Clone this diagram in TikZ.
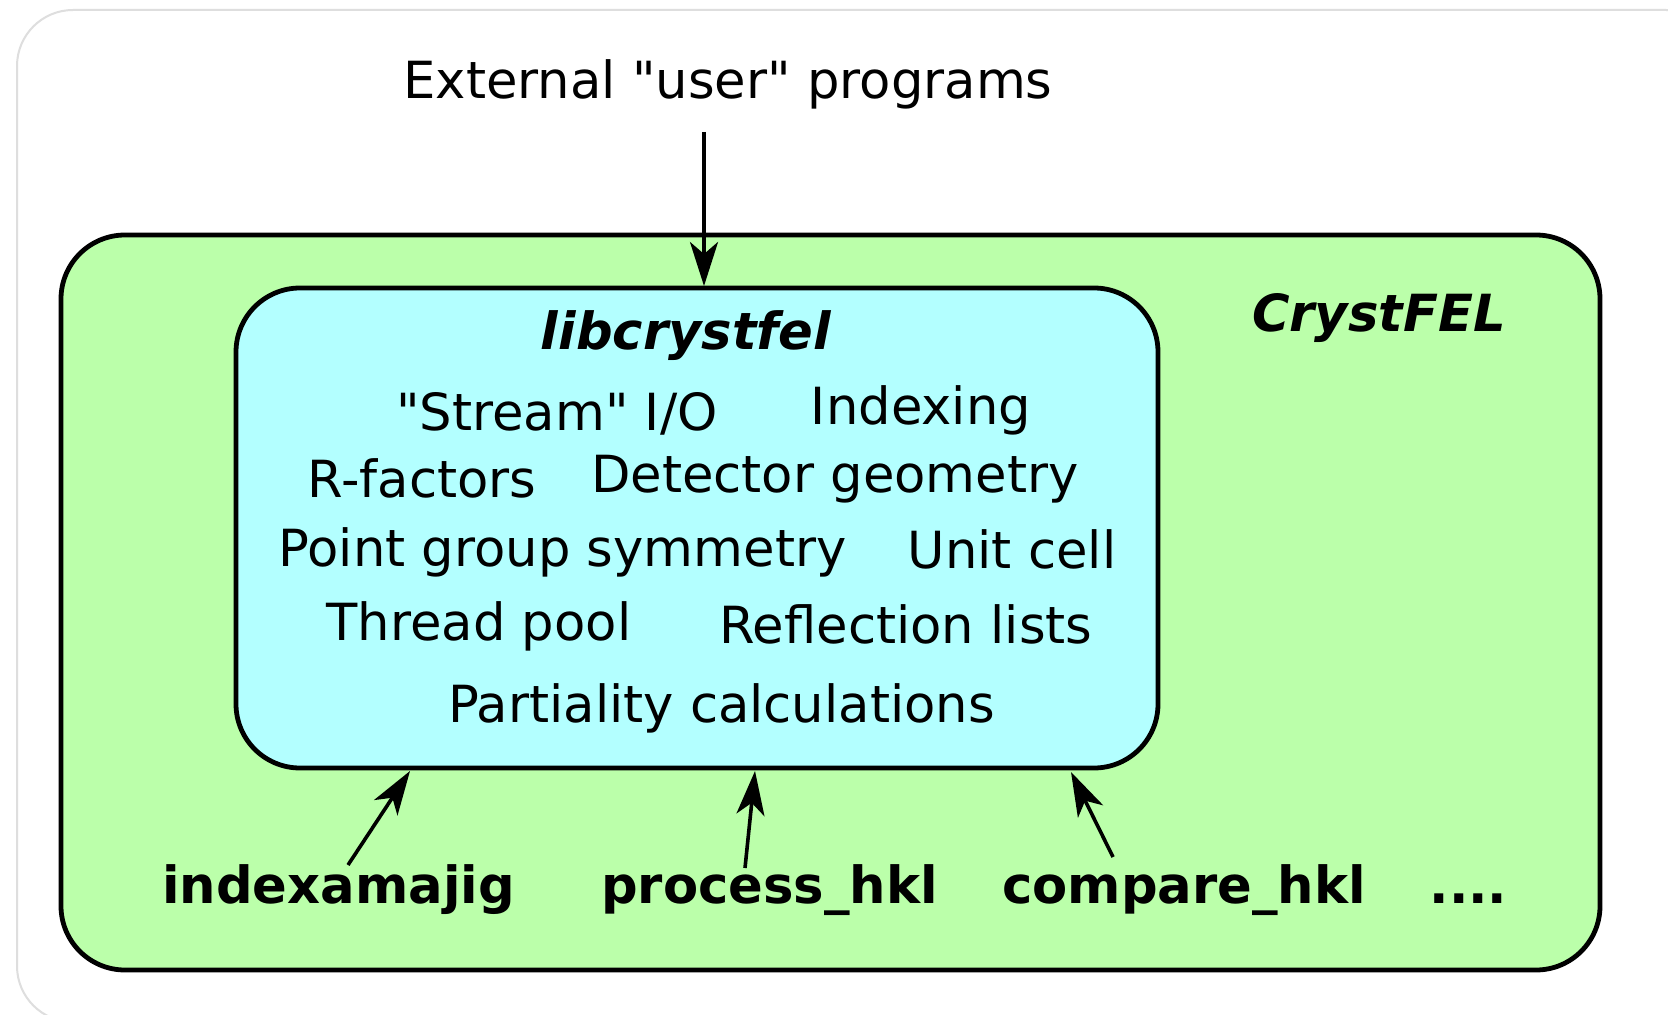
\documentclass[tikz,border=0pt]{standalone}
\usepackage{fontspec}
\setmainfont{DejaVu Sans}[Ligatures=TeXOff]
\usetikzlibrary{arrows.meta}
\definecolor{crystgreen}{RGB}{187,255,170}
\definecolor{libcyan}{RGB}{179,255,255}
\definecolor{framegray}{RGB}{222,222,222}
\begin{document}
\begin{tikzpicture}[x=0.5pt,y=-0.5pt,
  lbl/.style={inner sep=0pt,anchor=base,font=\fontsize{25.6}{30}\selectfont},
  prog/.style={lbl,font=\fontsize{25.6}{30}\selectfont\bfseries},
  title/.style={lbl,font=\fontsize{25.6}{30}\selectfont\bfseries\itshape},
  box/.style={draw=black,line width=2.4pt,rounded corners=32pt,inner sep=0pt},
  arr/.style={line width=1.8pt,-{Stealth[length=22pt,width=14pt,inset=6pt]}}]
\useasboundingbox (0,0) rectangle (1668,1015);
\fill[white] (0,0) rectangle (1668,1015);
\clip (0,0) rectangle (1668,1015);
% outer faint frame
\draw[framegray,line width=1pt,rounded corners=28pt] (17,10) rectangle (1722,1022);
% boxes
\node[box,fill=crystgreen,minimum width=769.5pt,minimum height=367.5pt] (cfel) at (830.5,602.5) {};
\node[box,fill=libcyan,minimum width=461pt,minimum height=240pt] (lib) at (697,528) {};
% texts
\node[lbl] (ext) at (728,99) {External "user" programs};
\node[title] (libt) at (686,350) {libcrystfel};
\node[title] (cft) at (1379,332) {CrystFEL};
\node[lbl] (l1) at (557,430) {"Stream" I/O};
\node[lbl] (l2) at (921,425) {Indexing};
\node[lbl] (l3) at (422,497) {R-factors};
\node[lbl] (l4) at (835,492) {Detector geometry};
\node[lbl] (l5) at (562.5,566) {Point group symmetry};
\node[lbl] (l6) at (1012,568) {Unit cell};
\node[lbl] (l7) at (479,640) {Thread pool};
\node[lbl] (l8) at (906,643) {Reflection lists};
\node[lbl] (l9) at (721.5,722) {Partiality calculations};
\node[prog] (p1) at (338.5,903) {indexamajig};
\node[prog] (p2) at (769.5,903) {process\_hkl};
\node[prog] (p3) at (1184,903) {compare\_hkl};
\node[prog] (p4) at (1468.5,903) {....};
% connector end points
\coordinate (a0) at (704,132);
\coordinate (a1) at (348,865);
\coordinate (a2) at (745,868);
\coordinate (a3) at (1113,857);
\coordinate (h0) at (704,286);
\coordinate (h1) at (410,771);
\coordinate (h2) at (755,771);
\coordinate (h3) at (1071,772);
\draw[arr] (a0) -- (h0);
\draw[arr] (a1) -- (h1);
\draw[arr] (a2) -- (h2);
\draw[arr] (a3) -- (h3);
\end{tikzpicture}
\end{document}
